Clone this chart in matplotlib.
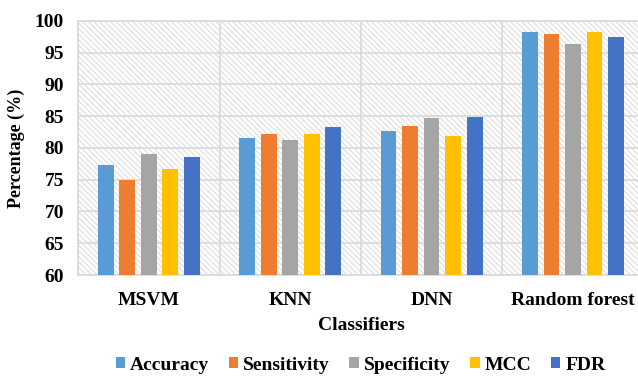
import matplotlib
matplotlib.use("Agg")
import matplotlib.pyplot as plt
from matplotlib.patches import Rectangle
import numpy as np

classifiers = ["MSVM", "KNN", "DNN", "Random forest"]
metrics = ["Accuracy", "Sensitivity", "Specificity", "MCC", "FDR"]
accuracy = [77.3, 81.5, 82.6, 98.3]
sensitivity = [75.0, 82.2, 83.4, 98.0]
specificity = [79.0, 81.2, 84.7, 96.3]
mcc = [76.7, 82.2, 81.8, 98.3]
fdr = [78.6, 83.3, 84.9, 97.5]
colors = ["#5B9BD5", "#ED7D31", "#A5A5A5", "#FFC000", "#4472C4"]

plt.rcParams["font.family"] = ["Liberation Serif", "DejaVu Serif"]
plt.rcParams["font.weight"] = "bold"
plt.rcParams["hatch.color"] = "#d4d4d4"
plt.rcParams["hatch.linewidth"] = 0.6

fig = plt.figure(figsize=(6.38, 3.76), dpi=100)
ax = fig.add_axes([0.1223, 0.2686, 0.887, 0.676])

x = np.arange(len(classifiers))
pitch = 0.152
width = 0.11
series = [accuracy, sensitivity, specificity, mcc, fdr]
for i, (name, vals) in enumerate(zip(metrics, series)):
    ax.bar(x + (i - 2) * pitch, vals, width, color=colors[i], label=name, zorder=3)

# hatched background
ax.add_patch(Rectangle((0, 0), 1, 1, transform=ax.transAxes, facecolor="white",
                       edgecolor="#d4d4d4", hatch="\\\\\\\\\\\\", lw=0, zorder=0))

ax.set_ylim(60, 100)
ax.set_xlim(-0.5, 3.5)
ax.set_yticks(range(60, 101, 5))
ax.set_xticks(x)
ax.set_xticklabels(classifiers)
ax.set_xticks(np.arange(-0.5, 4, 1), minor=True)
ax.grid(axis="y", color="#d9d9d9", lw=1.2, zorder=1)
ax.grid(axis="x", which="minor", color="#d9d9d9", lw=1.2, zorder=1)
ax.tick_params(which="both", length=0)
ax.tick_params(axis="y", labelsize=14, pad=10)
ax.tick_params(axis="x", labelsize=14, pad=12)
for s in ax.spines.values():
    s.set_color("#d9d9d9")
    s.set_linewidth(1.2)

ax.set_ylabel("Percentage (%)", fontsize=13, fontweight="bold", labelpad=7)
ax.set_xlabel("Classifiers", fontsize=14, fontweight="bold", labelpad=6)

fig.legend(loc="center", bbox_to_anchor=(0.565, 0.029), ncol=5, frameon=False,
           fontsize=14, handlelength=0.5, handleheight=0.5, handletextpad=0.25,
           columnspacing=1.0, borderpad=0.1)

fig.savefig("out.png", dpi=100)
